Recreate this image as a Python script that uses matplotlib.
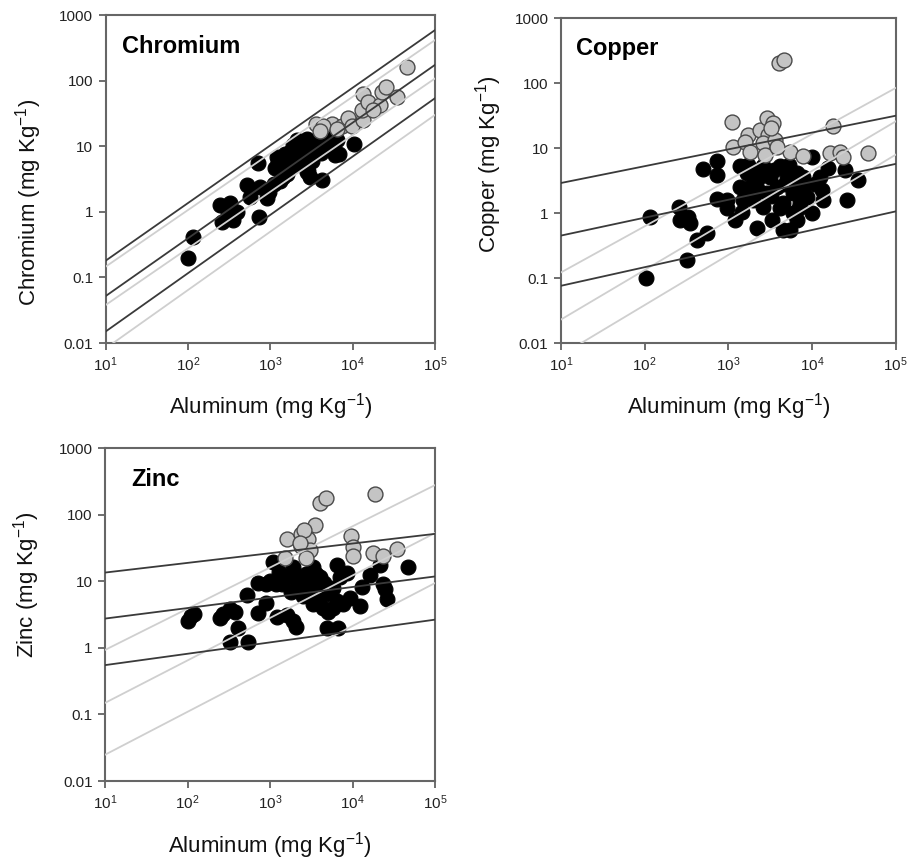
import matplotlib
matplotlib.use("Agg")
import matplotlib.pyplot as plt

plt.rcParams['font.family'] = ['Liberation Sans', 'DejaVu Sans']
plt.rcParams['mathtext.fontset'] = 'custom'
plt.rcParams['mathtext.rm'] = 'Liberation Sans'
plt.rcParams['mathtext.it'] = 'Liberation Sans:italic'
plt.rcParams['mathtext.bf'] = 'Liberation Sans:bold'

# ---- data (mg/kg) ----
cr_black_x = [101, 114, 245, 324, 389, 257, 355, 300, 516, 750, 566, 903, 715, 729,
              1140, 1195, 1440, 1580, 1740, 2090, 2290, 2760, 2760, 3320, 3640, 4370,
              5300, 6400, 6100, 4260, 10400, 1300, 1250, 1500, 1650, 1800, 1900, 2000,
              2200, 2400, 2500, 2600, 3000, 3200, 3500, 3800, 4100, 4600, 5000, 5800,
              6800, 1600, 2900, 1100, 950, 2100, 2800, 4000, 3000]
cr_black_y = [0.2, 0.41, 1.27, 1.35, 1.0, 0.71, 0.75, 1.1, 2.57, 2.4, 1.7, 1.6, 5.5, 0.83,
              4.6, 6.9, 3.4, 5.5, 8.2, 9.8, 6.2, 4.1, 12.4, 7.8, 12.4, 9.8,
              13.2, 12.4, 7.3, 3.05, 10.8, 3.0, 5.8, 7.5, 4.5, 6.5, 10.5, 5.2,
              8.5, 11, 7, 9.5, 10.5, 6, 8.8, 11, 8, 12, 10, 9,
              7.5, 3.8, 4.2, 2.7, 2.0, 12.5, 13, 14, 3.4]
cr_grey_x = [3550, 5570, 4370, 7400, 8870, 9770, 13500, 12900, 13500, 15500, 21500,
             22400, 25700, 34300, 46200, 17800, 4000, 6500]
cr_grey_y = [21.7, 21.7, 20, 20, 26.6, 20.3, 25, 35.6, 62.5, 47.8, 42.3,
             67.6, 80.8, 55.6, 163, 35.6, 17, 18]

cu_black_x = [104, 116, 324, 255, 264, 331, 347, 417, 550, 501, 725, 725, 725, 955, 955,
              1200, 1440, 1510, 2180, 3290, 4530, 5440, 6550, 9880, 9880, 12400, 13000,
              13600, 15600, 24700, 25900, 35600, 1380, 1660, 1810, 2180, 2620, 2870,
              3140, 3780, 4140, 4530, 4970, 5970, 6550, 7160, 7850, 1990, 2620, 1380,
              8600, 5970, 7850, 1700, 2400, 3500, 4800, 5300, 3200, 2300, 6000, 7000,
              11000, 4200]
cu_black_y = [0.1, 0.88, 0.19, 1.22, 0.78, 0.88, 0.7, 0.39, 0.49, 4.7, 6.4, 3.85, 1.64, 1.58, 1.18,
              0.78, 1.05, 1.58, 0.58, 0.78, 0.55, 0.55, 0.78, 0.99, 7.3, 3.6, 2.26,
              1.58, 4.87, 4.6, 1.58, 3.2, 5.2, 4.1, 2.5, 3.2, 5.2, 2.0,
              3.6, 2.5, 5.2, 1.41, 3.6, 2.0, 4.1, 1.41, 2.5, 1.58, 1.26, 2.5,
              1.78, 0.99, 3.6, 5.5, 4.5, 4.6, 2.8, 5.5, 1.8, 2.2, 3.0, 1.2,
              2.8, 1.2]
cu_grey_x = [4060, 4610, 1110, 1150, 1730, 1580, 1810, 2390, 2870, 3450, 3000, 2620,
             3610, 2740, 5440, 7850, 17600, 16400, 21400, 23600, 46800, 3780, 3200]
cu_grey_y = [201, 226, 25.4, 10.5, 15.8, 12.5, 8.8, 18.9, 28.6, 24, 15.8, 11.8,
             13.3, 7.8, 8.8, 7.5, 21.8, 8.3, 8.8, 7.3, 8.3, 10.5, 20]

zn_black_x = [101, 111, 119, 245, 269, 324, 372, 327, 407, 546, 522, 715, 715, 902, 902,
              1100, 1190, 1200, 1590, 1900, 2090, 1580, 1900, 2290, 2090, 2760, 3020,
              3310, 3980, 3630, 4370, 4830, 5820, 5820, 6450, 7020, 8500, 7700, 9290,
              4860, 6700, 12300, 12900, 16200, 21500, 23600, 24700, 25900, 46700,
              1300, 1800, 2500, 2800, 3300, 4000, 4500, 3600, 5000, 6500, 1400, 2000,
              3000, 1000]
zn_black_y = [2.56, 2.98, 3.2, 2.8, 3.2, 3.77, 3.5, 1.24, 1.99, 1.24, 6.2, 9.3, 3.35, 4.75, 9.0,
              19.6, 9.0, 2.9, 3.1, 2.5, 2.07, 11.4, 16.1, 11.4, 8.0, 12.8, 8.0,
              16.1, 11.4, 5.67, 4.0, 6.36, 8.0, 4.0, 17.5, 11.4, 13.2, 4.5, 5.67,
              1.96, 1.96, 4.24, 8.3, 12.4, 17.5, 9.0, 7.6, 5.5, 16.5,
              14, 7, 6, 10, 4.5, 7.5, 9.5, 13, 3.5, 5, 9, 12,
              6.5, 10]
zn_grey_x = [4080, 4830, 18700, 3490, 1610, 2400, 2890, 2400, 3020, 1510, 2710, 9470,
             10000, 10200, 17500, 23600, 34200, 2600, 2300]
zn_grey_y = [150, 181, 203, 71, 43, 51.5, 43, 34, 29, 22.3, 22.3, 48.6,
             32.4, 24.2, 26.2, 24.2, 30.5, 58, 38]

# reference lines: y at Al = 10 and Al = 1e5
line_x = [10, 1e5]
cr_dark = [(0.18, 590), (0.052, 174), (0.015, 54)]
cr_light = [(0.146, 415), (0.038, 108), (0.0083, 30)]
cu_dark = [(2.9, 31.4), (0.45, 5.7), (0.076, 1.06)]
cu_light = [(0.122, 84), (0.023, 25.7), (0.0065, 7.9)]
zn_dark = [(13.5, 51.5), (2.75, 11.8), (0.55, 2.65)]
zn_light = [(0.93, 278), (0.149, 53), (0.0248, 9.4)]

ytick_vals = [0.01, 0.1, 1, 10, 100, 1000]
ytick_labels = ['0.01', '0.1', '1', '10', '100', '1000']
xtick_vals = [10, 100, 1000, 10000, 100000]
xtick_labels = ['$10^1$', '$10^2$', '$10^3$', '$10^4$', '$10^5$']

fig = plt.figure(figsize=(9.18, 8.63), dpi=100)


def panel(rect, name, bx, by, gx, gy, dark, light, title_x, ylab_x, ylab_y):
    ax = fig.add_axes(rect)
    ax.scatter(bx, by, s=115, c='black', edgecolors='black', linewidths=0.8, zorder=2)
    ax.scatter(gx, gy, s=115, c='#c4c4c4', edgecolors='#4a4a4a', linewidths=1.0, zorder=3)
    for a, b in light:
        ax.plot(line_x, [a, b], color='#cfcfcf', lw=1.3, zorder=4)
    for a, b in dark:
        ax.plot(line_x, [a, b], color='#3a3a3a', lw=1.3, zorder=5)
    ax.set_xscale('log')
    ax.set_yscale('log')
    ax.set_xlim(10, 1e5)
    ax.set_ylim(0.01, 1000)
    ax.set_xticks(xtick_vals)
    ax.set_xticklabels(xtick_labels)
    ax.set_yticks(ytick_vals)
    ax.set_yticklabels(ytick_labels)
    ax.minorticks_off()
    ax.tick_params(direction='out', length=5, width=1.2, color='#555555',
                   labelsize=11, labelcolor='#222222', pad=4,
                   top=False, right=False)
    for sp in ax.spines.values():
        sp.set_color('#666666')
        sp.set_linewidth(1.5)
    ax.set_xlabel('Aluminum (mg Kg$^{-1}$)', fontsize=16, color='#111111', labelpad=12)
    ax.set_ylabel(name + ' (mg Kg$^{-1}$)', fontsize=16, color='#111111')
    ax.yaxis.set_label_coords(ylab_x, ylab_y)
    ax.text(title_x, 0.905, name, transform=ax.transAxes, fontsize=17,
            fontweight='bold', va='center', ha='left')
    return ax


panel([0.1151, 0.6025, 0.3588, 0.3801], 'Chromium', cr_black_x, cr_black_y,
      cr_grey_x, cr_grey_y, cr_dark, cr_light, 0.05, -0.187, 0.43)
panel([0.6111, 0.6025, 0.3646, 0.3766], 'Copper', cu_black_x, cu_black_y,
      cu_grey_x, cu_grey_y, cu_dark, cu_light, 0.045, -0.17, 0.55)
ax3 = panel([0.1144, 0.095, 0.3595, 0.3858], 'Zinc', zn_black_x, zn_black_y,
            zn_grey_x, zn_grey_y, zn_dark, zn_light, 0.078, -0.19, 0.59)
ax3.xaxis.labelpad = 13

fig.savefig('out.png', dpi=100)
